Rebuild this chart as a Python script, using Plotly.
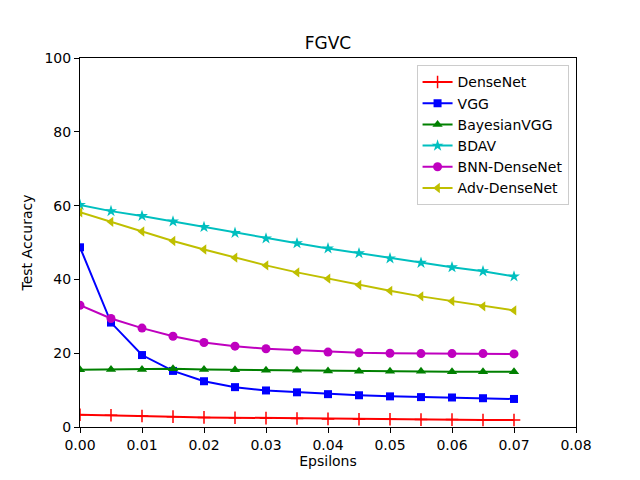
import plotly.graph_objects as go

# epsilon values on x axis
epsilons = [0.000, 0.005, 0.010, 0.015, 0.020, 0.025, 0.030, 0.035,
            0.040, 0.045, 0.050, 0.055, 0.060, 0.065, 0.070]

densenet = [3.3, 3.2, 3.0, 2.8, 2.6, 2.5, 2.4, 2.3, 2.2, 2.1, 2.1, 2.0, 2.0, 1.9, 1.9]
vgg = [48.7, 28.3, 19.5, 15.2, 12.4, 10.8, 9.9, 9.4, 8.9, 8.6, 8.3, 8.1, 8.0, 7.8, 7.6]
bayesian_vgg = [15.5, 15.6, 15.6, 15.8, 15.6, 15.5, 15.4, 15.4, 15.2, 15.1, 15.1, 15.1, 15.0, 15.0, 15.0]
bdav = [60.2, 58.5, 57.2, 55.7, 54.2, 52.6, 51.1, 49.8, 48.4, 47.1, 45.7, 44.5, 43.3, 42.2, 40.8]
bnn_densenet = [33.0, 29.4, 26.8, 24.6, 22.9, 21.9, 21.2, 20.8, 20.3, 20.1, 20.0, 19.9, 19.9, 19.9, 19.8]
adv_densenet = [58.2, 55.6, 53.0, 50.4, 48.1, 45.9, 43.8, 41.9, 40.2, 38.5, 36.9, 35.4, 34.1, 32.7, 31.6]

x_ticks = [0.00, 0.01, 0.02, 0.03, 0.04, 0.05, 0.06, 0.07, 0.08]
y_ticks = [0, 20, 40, 60, 80, 100]

series = [
    ("DenseNet", densenet, "#FF0000", "cross-thin", 9),
    ("VGG", vgg, "#0000FF", "square", 8),
    ("BayesianVGG", bayesian_vgg, "#008000", "triangle-up", 9),
    ("BDAV", bdav, "#00BFBF", "star", 9),
    ("BNN-DenseNet", bnn_densenet, "#BF00BF", "circle", 9),
    ("Adv-DenseNet", adv_densenet, "#BFBF00", "triangle-left", 9),
]

fig = go.Figure()
for name, vals, col, sym, sz in series:
    fig.add_trace(go.Scatter(
        x=epsilons, y=vals, name=name, mode="lines+markers",
        line=dict(color=col, width=2),
        marker=dict(symbol=sym, size=sz, color=col,
                    line=dict(color=col, width=1.5 if sym == "cross-thin" else 0)),
    ))

axis_common = dict(showline=True, linecolor="black", linewidth=1, mirror=True,
                   ticks="outside", ticklen=5, tickcolor="black",
                   showgrid=False, zeroline=False, automargin=False,
                   tickfont=dict(size=14, color="black"))

# the page body has an 8px margin, so the figure is offset by 8px
fig.update_layout(
    width=640, height=480,
    paper_bgcolor="white", plot_bgcolor="white",
    font=dict(family="DejaVu Sans", size=14, color="black"),
    margin=dict(l=72, r=72, t=50, b=61),
    title=dict(text="FGVC", x=0.5, xanchor="center", y=0.927, yanchor="middle",
               font=dict(size=17)),
    xaxis=dict(axis_common, range=[0, 0.08], tickvals=x_ticks,
               ticktext=["%.2f" % t for t in x_ticks],
               title=dict(text="Epsilons", standoff=4, font=dict(size=14))),
    yaxis=dict(axis_common, range=[0, 100], tickvals=y_ticks,
               title=dict(text="Test Accuracy", standoff=8, font=dict(size=14))),
    legend=dict(x=0.985, xanchor="right", y=0.98, yanchor="top", itemwidth=30,
                bgcolor="rgba(255,255,255,0.8)", bordercolor="#CCCCCC", borderwidth=1,
                font=dict(size=14)),
)

fig.write_html("out.html")
